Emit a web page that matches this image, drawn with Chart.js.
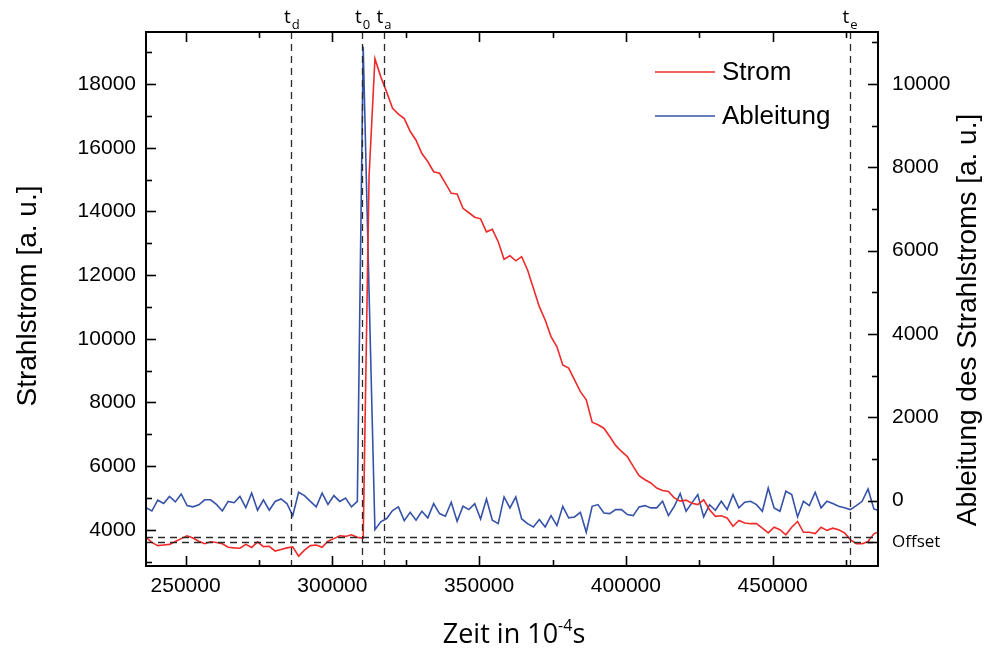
<!DOCTYPE html>
<html>
<head>
<meta charset="utf-8">
<script src="https://cdn.jsdelivr.net/npm/chart.js@4.4.1/dist/chart.umd.min.js"></script>
<style>
html,body{margin:0;padding:0;background:#fff;}
#wrap{width:992px;height:650px;position:relative;}
</style>
</head>
<body>
<div id="wrap"><canvas id="c"></canvas></div>
<script>
// ---- data (time in 10^-4 s, sampled every 2000 starting at 236500) ----
const timeStart = 236500;
const timeStep = 2000;

const stromValues = [
3760,3600,3500,3520,3540,3630,3720,3810,3740,3640,
3560,3620,3600,3560,3450,3430,3420,3540,3440,3620,
3470,3480,3330,3380,3430,3460,3170,3360,3500,3520,
3450,3640,3720,3810,3790,3840,3760,3740,15100,18800,
18230,17750,17240,17060,16920,16520,16240,15820,15570,15250,
15200,14890,14570,14550,14100,13960,13820,13770,13360,13440,
13050,12500,12610,12450,12580,12160,11590,11010,10590,10070,
9750,9180,9080,8710,8340,8080,7380,7300,7190,6930,
6650,6460,6300,5990,5700,5570,5470,5310,5230,5200,
5000,4900,4930,4830,4790,4940,4630,4420,4440,4370,
4110,4290,4210,4190,4190,4050,3900,4080,4000,3840,
4080,4260,3920,3920,3880,4080,3980,4050,4000,3900,
3690,3560,3560,3630,3870,3950
];

const ableitungValues = [
-170,-250,10,-70,100,-30,160,-120,-150,-100,
20,20,-90,-250,-20,-50,100,-170,180,-230,
20,-230,-20,40,-70,-360,200,120,-20,-150,
180,-90,120,-20,60,-150,-20,10900,5000,-700,
-510,-430,-240,-150,-480,-280,-470,-256,-415,-72,
-312,-376,-40,-496,-136,-216,-72,-440,40,-472,
-552,88,-176,88,-440,-552,-632,-456,-632,-360,
-600,-136,-415,-392,-280,-760,-136,-96,-296,-312,
-216,-216,-336,-360,-151,-120,-175,-175,-16,-360,
-136,168,-256,-55,144,-392,-100,-232,-16,-216,
144,-175,-40,-16,-96,-256,304,-175,-256,224,
144,-392,-16,-120,200,-175,-16,-72,-136,-170,
-216,-120,-16,280,-200,-250
];

const xTicks = [250000, 300000, 350000, 400000, 450000];
const xMinorTicks = [275000, 325000, 375000, 425000, 475000];
const yLeftTicks = [4000, 6000, 8000, 10000, 12000, 14000, 16000, 18000];
const yLeftMinor = [3000, 5000, 7000, 9000, 11000, 13000, 15000, 17000, 19000];
const yRightTicks = [-1000, 0, 2000, 4000, 6000, 8000, 10000];
const yRightMinor = [1000, 3000, 5000, 7000, 9000, 11000];
const offsetTickValue = -1000;
const offsetLabel = 'Offset';

const markerNames = ['d', '0', 'a', 'e'];
const markerTimes = [286000, 310200, 317500, 476300];
const offsetStrom = 3760;      // left axis
const offsetAbleitung = -1000; // right axis

const seriesNames = ['Strom', 'Ableitung'];
const seriesColors = ['#ee2b2b', '#3552a8'];

// ---- build point lists ----
const stromPoints = stromValues.map((v, i) => ({x: timeStart + i * timeStep, y: v}));
const ableitungPoints = ableitungValues.map((v, i) => ({x: timeStart + i * timeStep, y: v}));

const TICK_FONT = {family: 'Liberation Sans, Arial, sans-serif', size: 21};

const decor = {
  id: 'decor',
  afterDatasetsDraw(chart) {
    const {ctx, chartArea: a, scales} = chart;
    const x = scales.x, y = scales.y, y1 = scales.y1;
    ctx.save();
    // dashed guide lines
    ctx.strokeStyle = '#2a2a2a';
    ctx.lineWidth = 1.3;
    ctx.setLineDash([7, 5]);
    markerTimes.forEach(t => {
      const px = Math.round(x.getPixelForValue(t)) + 0.5;
      ctx.beginPath(); ctx.moveTo(px, a.top); ctx.lineTo(px, a.bottom); ctx.stroke();
    });
    [y.getPixelForValue(offsetStrom), y1.getPixelForValue(offsetAbleitung)].forEach(py => {
      py = Math.round(py) + 0.5;
      ctx.beginPath(); ctx.moveTo(a.left, py); ctx.lineTo(a.right, py); ctx.stroke();
    });
    ctx.setLineDash([]);

    // ticks (inward)
    ctx.strokeStyle = '#000';
    ctx.lineWidth = 1.6;
    const major = 10, minor = 6;
    const vt = (vals, len) => vals.forEach(v => {
      const px = Math.round(x.getPixelForValue(v)) + 0.5;
      ctx.beginPath(); ctx.moveTo(px, a.bottom); ctx.lineTo(px, a.bottom - len); ctx.stroke();
      ctx.beginPath(); ctx.moveTo(px, a.top); ctx.lineTo(px, a.top + len); ctx.stroke();
    });
    vt(xTicks, major); vt(xMinorTicks, minor);
    const lt = (vals, len) => vals.forEach(v => {
      const py = Math.round(y.getPixelForValue(v)) + 0.5;
      ctx.beginPath(); ctx.moveTo(a.left, py); ctx.lineTo(a.left + len, py); ctx.stroke();
    });
    lt(yLeftTicks, major); lt(yLeftMinor, minor);
    const rt = (vals, len) => vals.forEach(v => {
      const py = Math.round(y1.getPixelForValue(v)) + 0.5;
      ctx.beginPath(); ctx.moveTo(a.right, py); ctx.lineTo(a.right - len, py); ctx.stroke();
    });
    rt(yRightTicks, major); rt(yRightMinor, minor);

    // frame
    ctx.lineWidth = 2;
    ctx.strokeRect(a.left, a.top, a.right - a.left, a.bottom - a.top);

    // marker labels t_x
    ctx.fillStyle = '#000';
    ctx.textBaseline = 'alphabetic';
    markerTimes.forEach((t, i) => {
      const px = x.getPixelForValue(t);
      ctx.font = '19px "Open Sans", sans-serif';
      ctx.textAlign = 'right';
      ctx.fillText('t', px - 0.5, 23);
      ctx.font = '13px "Open Sans", sans-serif';
      ctx.textAlign = 'left';
      ctx.fillText(markerNames[i], px + 0.5, 29);
    });

    // legend
    ctx.lineWidth = 1.7;
    const legY = [72, 116];
    chart.data.datasets.forEach((ds, i) => {
      ctx.strokeStyle = ds.borderColor;
      ctx.beginPath(); ctx.moveTo(655, legY[i]); ctx.lineTo(715, legY[i]); ctx.stroke();
      ctx.fillStyle = '#000';
      ctx.font = '26px "Liberation Sans", Arial, sans-serif';
      ctx.textAlign = 'left';
      ctx.textBaseline = 'middle';
      ctx.fillText(ds.label, 722, legY[i] + 1);
    });

    // axis titles
    ctx.fillStyle = '#000';
    ctx.textBaseline = 'middle';
    ctx.textAlign = 'center';
    ctx.font = '28px "Liberation Sans", Arial, sans-serif';
    ctx.save();
    ctx.translate(28, 296); ctx.rotate(-Math.PI / 2);
    ctx.fillText('Strahlstrom [a. u.]', 0, 0);
    ctx.restore();
    ctx.save();
    ctx.translate(968, 320); ctx.rotate(-Math.PI / 2);
    ctx.fillText('Ableitung des Strahlstroms [a. u.]', 0, 0);
    ctx.restore();

    // x title with superscript
    const big = '27px "Open Sans", sans-serif', small = '16px "Open Sans", sans-serif';
    const p1 = 'Zeit in 10', p2 = '-4', p3 = 's';
    ctx.font = big; const w1 = ctx.measureText(p1).width, w3 = ctx.measureText(p3).width;
    ctx.font = small; const w2 = ctx.measureText(p2).width;
    let sx = 514 - (w1 + w2 + w3) / 2;
    const by = 643;
    ctx.textAlign = 'left'; ctx.textBaseline = 'alphabetic';
    ctx.font = big; ctx.fillText(p1, sx, by); sx += w1;
    ctx.font = small; ctx.fillText(p2, sx, by - 12); sx += w2;
    ctx.font = big; ctx.fillText(p3, sx, by);
    ctx.restore();
  }
};

new Chart(document.getElementById('c'), {
  type: 'line',
  data: {
    datasets: [
      {label: seriesNames[0], data: stromPoints, yAxisID: 'y', borderColor: seriesColors[0], borderWidth: 1.6, pointRadius: 0, tension: 0, fill: false},
      {label: seriesNames[1], data: ableitungPoints, yAxisID: 'y1', borderColor: seriesColors[1], borderWidth: 1.6, pointRadius: 0, tension: 0, fill: false}
    ]
  },
  options: {
    responsive: true,
    maintainAspectRatio: false,
    animation: false,
    layout: {padding: {top: 32, left: 0, right: 0, bottom: 0}},
    plugins: {legend: {display: false}, tooltip: {enabled: false}},
    scales: {
      x: {
        type: 'linear', min: 236500, max: 485900,
        grid: {display: false, drawTicks: false}, border: {display: false},
        afterBuildTicks: s => { s.ticks = xTicks.map(v => ({value: v})); },
        ticks: {font: TICK_FONT, color: '#000', padding: 8, maxRotation: 0, autoSkip: false, callback: v => String(v)},
        afterFit: s => { s.height = 84; }
      },
      y: {
        type: 'linear', position: 'left', min: 2860, max: 19640,
        grid: {display: false, drawTicks: false}, border: {display: false},
        afterBuildTicks: s => { s.ticks = yLeftTicks.map(v => ({value: v})); },
        ticks: {font: TICK_FONT, color: '#000', padding: 10, autoSkip: false, callback: v => String(v)},
        afterFit: s => { s.width = 146; }
      },
      y1: {
        type: 'linear', position: 'right', min: -1570, max: 11250,
        grid: {display: false, drawTicks: false}, border: {display: false},
        afterBuildTicks: s => { s.ticks = yRightTicks.map(v => ({value: v})); },
        ticks: {
          color: '#000', padding: 14, autoSkip: false,
          font: c => (c.tick && c.tick.value === offsetTickValue) ? {family: '"Open Sans", sans-serif', size: 17} : TICK_FONT,
          callback: v => v === offsetTickValue ? offsetLabel : String(v)
        },
        afterFit: s => { s.width = 114; }
      }
    }
  },
  plugins: [decor]
});
</script>
</body>
</html>
